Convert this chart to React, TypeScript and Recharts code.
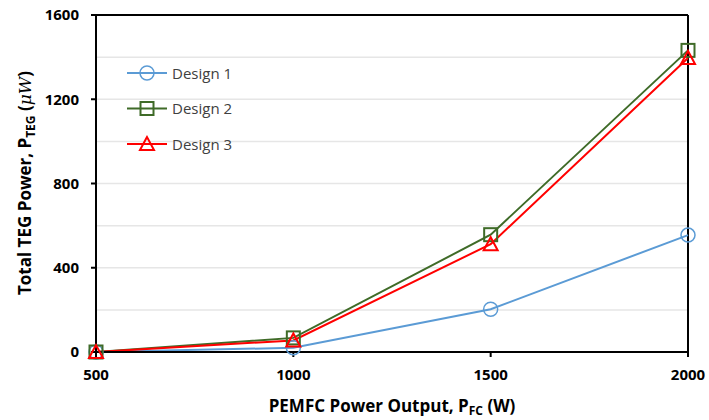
import React from "react";
import {
  LineChart,
  Line,
  XAxis,
  YAxis,
  CartesianGrid,
  ReferenceLine,
  Label,
} from "recharts";

const powerOutput = [500, 1000, 1500, 2000];
const design1 = [0, 20, 203, 555];
const design2 = [0, 67, 557, 1432];
const design3 = [0, 55, 512, 1396];
const xTicks = [500, 1000, 1500, 2000];
const yTicks = [0, 400, 800, 1200, 1600];
const gridLines = [200, 400, 600, 800, 1000, 1200, 1400];

const data = powerOutput.map((p, i) => ({
  p,
  d1: design1[i],
  d2: design2[i],
  d3: design3[i],
}));

const BLUE = "#5B9BD5";
const GREEN = "#3F6B28";
const RED = "#FF0000";
const FONT = "'Open Sans', 'Liberation Sans', sans-serif";

const CircleDot = (props: any) => {
  const { cx, cy, stroke } = props;
  if (cx == null || cy == null) return null;
  return <circle cx={cx} cy={cy} r={7} fill="none" stroke={stroke} strokeWidth={1.5} />;
};
const SquareDot = (props: any) => {
  const { cx, cy, stroke } = props;
  if (cx == null || cy == null) return null;
  return <rect x={cx - 6.5} y={cy - 6.5} width={13} height={13} fill="none" stroke={stroke} strokeWidth={2} />;
};
const TriDot = (props: any) => {
  const { cx, cy, stroke } = props;
  if (cx == null || cy == null) return null;
  return (
    <polygon
      points={`${cx},${cy - 7} ${cx - 7},${cy + 6} ${cx + 7},${cy + 6}`}
      fill="none"
      stroke={stroke}
      strokeWidth={2}
    />
  );
};

const legendItems = [
  { name: "Design 1", color: BLUE, Dot: CircleDot },
  { name: "Design 2", color: GREEN, Dot: SquareDot },
  { name: "Design 3", color: RED, Dot: TriDot },
];

// legend drawn as an overlay so it takes no room from the plot
const LegendBox = () => (
  <svg width={130} height={110} style={{ position: "absolute", left: 125, top: 60 }}>
    {legendItems.map((it, i) => {
      const y = 13 + i * 35.5;
      return (
        <g key={it.name}>
          <line x1={2} x2={42} y1={y} y2={y} stroke={it.color} strokeWidth={2} />
          <it.Dot cx={22} cy={y} stroke={it.color} />
          <text x={47} y={y + 5.5} fontSize={15} fill="#404040" fontFamily={FONT}>
            {it.name}
          </text>
        </g>
      );
    })}
  </svg>
);

const tickStyle = { fontSize: 15, fontWeight: 700, fill: "#000", fontFamily: FONT };

export default function App() {
  return (
    <div style={{ position: "absolute", left: 0, top: 0, width: 709, height: 420, background: "#fff" }}>
      <LineChart
        width={709}
        height={420}
        data={data}
        margin={{ top: 15, right: 21, bottom: 0, left: 36 }}
      >
        <CartesianGrid
          horizontal
          vertical={false}
          horizontalValues={gridLines}
          stroke="#E6E6E6"
          strokeWidth={1.5}
        />
        <ReferenceLine y={1600} stroke="#000" strokeWidth={2} />
        <ReferenceLine x={2000} stroke="#000" strokeWidth={2} />
        <XAxis
          dataKey="p"
          type="number"
          domain={[500, 2000]}
          ticks={xTicks}
          stroke="#000"
          strokeWidth={2}
          tickSize={5}
          tick={tickStyle}
          tickMargin={12}
          height={68}
          interval={0}
        >
          <Label
            content={() => (
              <text x={392} y={412} textAnchor="middle" fontSize={17} fontWeight={700} fontFamily={FONT} fill="#000">
                PEMFC Power Output, P
                <tspan fontSize={12} dy={3}>FC</tspan>
                <tspan dy={-3}> (W)</tspan>
              </text>
            )}
          />
        </XAxis>
        <YAxis
          type="number"
          domain={[0, 1600]}
          ticks={yTicks}
          stroke="#000"
          strokeWidth={2}
          tickSize={5}
          tick={tickStyle}
          tickMargin={12}
          width={60}
          interval={0}
        >
          <Label
            content={() => (
              <text
                x={0}
                y={0}
                transform="translate(31,183) rotate(-90)"
                textAnchor="middle"
                fontSize={17}
                fontWeight={700}
                fontFamily={FONT}
                fill="#000"
              >
                Total TEG Power, P
                <tspan fontSize={12} dy={4}>TEG</tspan>
                <tspan dy={-4}> (</tspan>
                <tspan fontStyle="italic" fontWeight={400} fontFamily="'DejaVu Serif', serif">μW</tspan>
                <tspan>)</tspan>
              </text>
            )}
          />
        </YAxis>
        <Line dataKey="d1" stroke={BLUE} strokeWidth={2} dot={<CircleDot />} isAnimationActive={false} />
        <Line dataKey="d2" stroke={GREEN} strokeWidth={2} dot={<SquareDot />} isAnimationActive={false} />
        <Line dataKey="d3" stroke={RED} strokeWidth={2} dot={<TriDot />} isAnimationActive={false} />
      </LineChart>
      <LegendBox />
    </div>
  );
}
